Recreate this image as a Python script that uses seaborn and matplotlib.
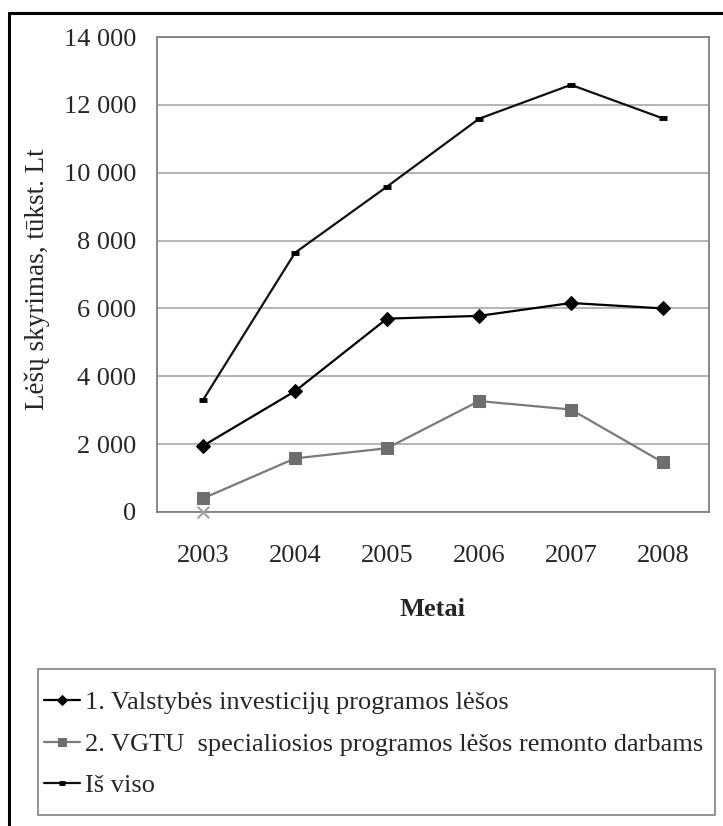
import pandas as pd
import numpy as np
import matplotlib
matplotlib.use('Agg')
import matplotlib.pyplot as plt
from matplotlib.lines import Line2D
from matplotlib.patches import Rectangle
import seaborn as sns

# data
metai = ['2003', '2004', '2005', '2006', '2007', '2008']
valstybes = [1950, 3560, 5700, 5780, 6160, 6000]
vgtu = [400, 1580, 1880, 3270, 3020, 1460]
is_viso = [3300, 7640, 9590, 11590, 12590, 11600]
kitas_metai = ['2003']
kitas = [0]

lbl1 = '1. Valstybės investicijų programos lėšos'
lbl2 = '2. VGTU  specialiosios programos lėšos remonto darbams'
lbl3 = 'Iš viso'

sns.set_style('white')
plt.rcParams['font.family'] = ['Liberation Serif', 'DejaVu Serif']

fig = plt.figure(figsize=(7.23, 8.26), dpi=100)
ax = fig.add_axes([157/723, 1-512/826, (709-157)/723, (512-37)/826])

df = pd.DataFrame({'metai': metai, 'v': valstybes, 'g': vgtu, 't': is_viso})

sns.lineplot(data=df, x='metai', y='v', ax=ax, color='black', lw=1.6,
             marker='D', markersize=7, markeredgecolor='black', label=lbl1)
sns.lineplot(data=df, x='metai', y='g', ax=ax, color='#7a7a7a', lw=1.6,
             marker='s', markersize=8, markerfacecolor='#6e6e6e',
             markeredgecolor='#6e6e6e', label=lbl2)
sns.lineplot(data=df, x='metai', y='t', ax=ax, color='#111111', lw=1.6,
             marker='_', markersize=6, markeredgewidth=3.5,
             markeredgecolor='black', label=lbl3)
sns.scatterplot(x=kitas_metai, y=kitas, ax=ax, marker='x', s=70,
                color='#a0a0a0', linewidth=1.5, zorder=5, clip_on=False,
                legend=False)

ax.set_xlim(-0.5, 5.5)
ax.set_ylim(0, 14000)
ax.set_yticks(range(0, 14001, 2000))
ax.set_yticklabels([f'{v:,}'.replace(',', ' ') for v in range(0, 14001, 2000)],
                   fontsize=19)
ax.set_xticks(range(len(metai)))
ax.set_xticklabels(metai, fontsize=19)
ax.set_xticks(np.arange(-0.5, 6, 1), minor=True)
ax.tick_params(axis='x', which='major', length=0, pad=24)
ax.tick_params(axis='x', which='minor', length=7, width=1, color='#808080')
ax.tick_params(axis='y', length=7, width=1, color='#808080', pad=8)
ax.yaxis.grid(True, color='#a8a8a8', lw=1.2)
ax.xaxis.grid(False)
for s in ax.spines.values():
    s.set_color('#808080')
    s.set_linewidth(1.3)
    s.set_visible(True)

ax.set_xlabel('Metai', fontsize=19, fontweight='bold', labelpad=22)
ax.set_ylabel('Lėšų skyrimas, tūkst. Lt', fontsize=19.5)
ax.yaxis.set_label_coords(-0.193, 0.49)

ax.get_legend().remove()
h, l = ax.get_legend_handles_labels()
leg = fig.legend(h[:3], l[:3], loc='upper left',
                 bbox_to_anchor=(44/723, 1-691/826),
                 fontsize=19, frameon=False, handlelength=1.35,
                 handletextpad=0.2, labelspacing=0.68, borderpad=0,
                 borderaxespad=0, markerscale=0.75)

# legend box
fig.add_artist(Rectangle((38/723, 1-815/826), (715-38)/723, (815-669)/826,
                         transform=fig.transFigure, fill=False,
                         edgecolor='#808080', lw=1.2))

# figure frame (left and top edges visible)
fig.add_artist(Line2D([9/723, 9/723], [0, 1-13/826], transform=fig.transFigure,
                      color='black', lw=2.2))
fig.add_artist(Line2D([9/723, 1], [1-13/826, 1-13/826], transform=fig.transFigure,
                      color='black', lw=2.2))

plt.savefig('out.png', dpi=100)
